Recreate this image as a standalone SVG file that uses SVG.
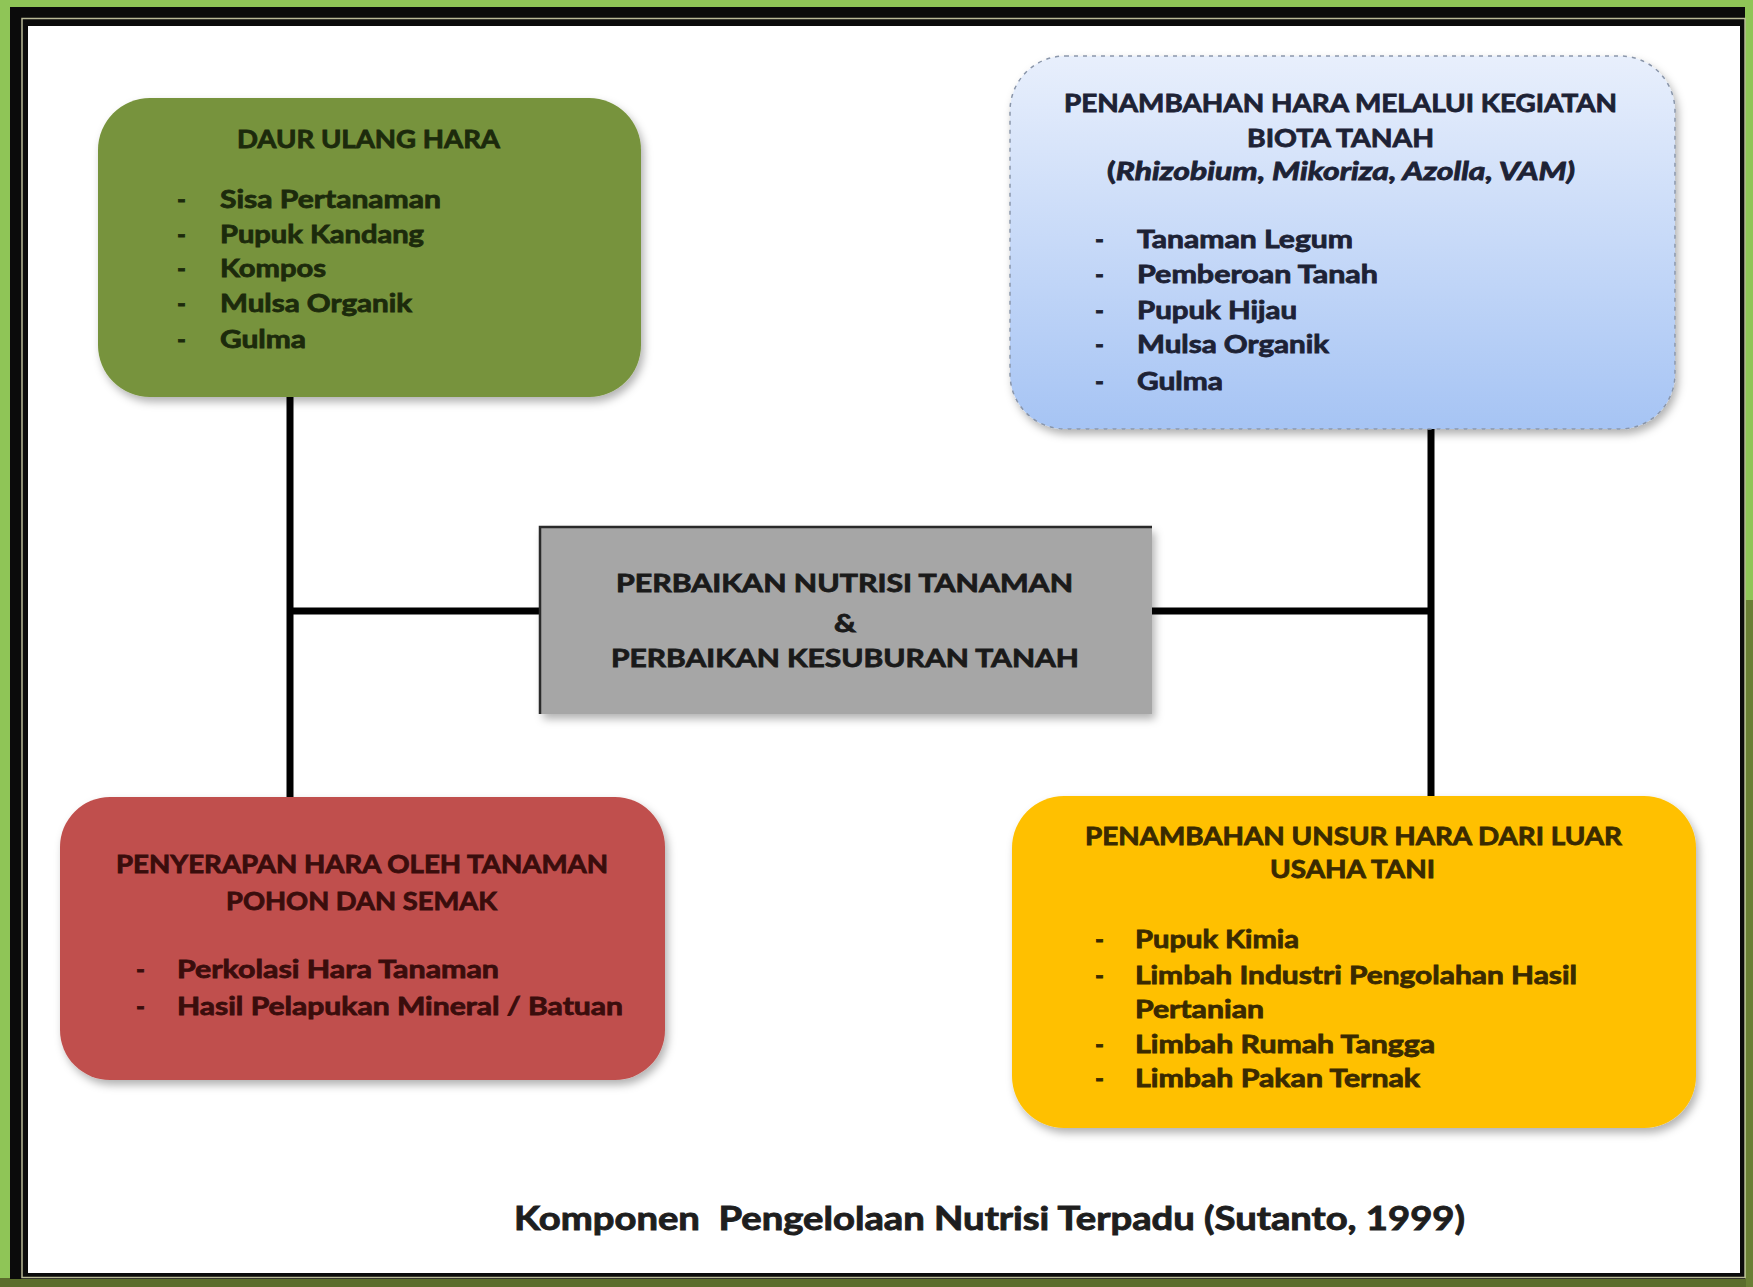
<svg xmlns="http://www.w3.org/2000/svg" width="1753" height="1287" viewBox="0 0 1753 1287">
<defs>
<linearGradient id="blueGrad" x1="0" y1="0" x2="0" y2="1">
<stop offset="0" stop-color="#e8effc"/>
<stop offset="1" stop-color="#a6c4f4"/>
</linearGradient>
<filter id="shadow" x="-10%" y="-10%" width="125%" height="130%">
<feDropShadow dx="3" dy="5" stdDeviation="4" flood-color="#000" flood-opacity="0.3"/>
</filter>
<style>
text{font-family:Lato,"Open Sans","Liberation Sans",sans-serif;font-weight:bold;font-size:24px;stroke-width:0.8px}
.g{fill:#1c2a0c;stroke:#1c2a0c}
.b{fill:#1d2235;stroke:#1d2235}
.k{fill:#1a1a1a;stroke:#1a1a1a}
.r{fill:#3a0d0c;stroke:#3a0d0c}
.y{fill:#3a2a00;stroke:#3a2a00}
.cap{font-size:32px;fill:#1e1e1e;stroke:#1e1e1e;stroke-width:0.9px}
.conn{stroke:#000;stroke-width:7;fill:none}
</style>
</defs>
<rect x="0" y="0" width="1753" height="1287" fill="#8fc557"/>
<rect x="0" y="1278" width="1753" height="9" fill="#5b6d2c"/>
<rect x="1746" y="600" width="7" height="687" fill="#6a7f34"/>
<rect x="10" y="7" width="1735" height="1272" fill="#0b0b0b"/>
<rect x="22" y="18.5" width="1723" height="1259" fill="none" stroke="#b9b996" stroke-width="1.5"/>
<rect x="28" y="26" width="1712" height="1247" fill="#ffffff"/>

<g id="connectors">
<line class="conn" x1="290" y1="396" x2="290" y2="798"/>
<line class="conn" x1="290" y1="611" x2="541" y2="611"/>
<line class="conn" x1="1431" y1="428" x2="1431" y2="796"/>
<line class="conn" x1="1151" y1="611" x2="1431" y2="611"/>
</g>

<g id="daur-ulang-hara">
<rect x="98" y="98" width="543" height="299" rx="52" fill="#77933c" filter="url(#shadow)"/>
<text class="g" x="237" y="148" textLength="263" lengthAdjust="spacingAndGlyphs">DAUR ULANG HARA</text>
<text class="g" x="177" y="208">-</text>
<text class="g" x="220" y="208" textLength="221" lengthAdjust="spacingAndGlyphs">Sisa Pertanaman</text>
<text class="g" x="177" y="243">-</text>
<text class="g" x="220" y="243" textLength="204" lengthAdjust="spacingAndGlyphs">Pupuk Kandang</text>
<text class="g" x="177" y="277">-</text>
<text class="g" x="220" y="277" textLength="106" lengthAdjust="spacingAndGlyphs">Kompos</text>
<text class="g" x="177" y="312">-</text>
<text class="g" x="220" y="312" textLength="192" lengthAdjust="spacingAndGlyphs">Mulsa Organik</text>
<text class="g" x="177" y="348">-</text>
<text class="g" x="220" y="348" textLength="86" lengthAdjust="spacingAndGlyphs">Gulma</text>
</g>

<g id="biota-tanah">
<rect x="1010" y="56" width="665" height="373" rx="55" fill="url(#blueGrad)" stroke="#8a96aa" stroke-width="1.5" stroke-dasharray="4 5" filter="url(#shadow)"/>
<text class="b" x="1064" y="112" textLength="553" lengthAdjust="spacingAndGlyphs">PENAMBAHAN HARA MELALUI KEGIATAN</text>
<text class="b" x="1247" y="147" textLength="187" lengthAdjust="spacingAndGlyphs">BIOTA TANAH</text>
<text class="b" x="1107" y="180" textLength="468" lengthAdjust="spacingAndGlyphs">(<tspan font-style="italic">Rhizobium, Mikoriza, Azolla, VAM)</tspan></text>
<text class="b" x="1095" y="248">-</text>
<text class="b" x="1137" y="248" textLength="216" lengthAdjust="spacingAndGlyphs">Tanaman Legum</text>
<text class="b" x="1095" y="283">-</text>
<text class="b" x="1137" y="283" textLength="241" lengthAdjust="spacingAndGlyphs">Pemberoan Tanah</text>
<text class="b" x="1095" y="319">-</text>
<text class="b" x="1137" y="319" textLength="160" lengthAdjust="spacingAndGlyphs">Pupuk Hijau</text>
<text class="b" x="1095" y="353">-</text>
<text class="b" x="1137" y="353" textLength="192" lengthAdjust="spacingAndGlyphs">Mulsa Organik</text>
<text class="b" x="1095" y="390">-</text>
<text class="b" x="1137" y="390" textLength="86" lengthAdjust="spacingAndGlyphs">Gulma</text>
</g>

<g id="perbaikan-nutrisi">
<rect x="540" y="527" width="612" height="187" fill="#a6a6a6" filter="url(#shadow)"/>
<path d="M540 714 V527 H1152" fill="none" stroke="#2a2a2a" stroke-width="2.5"/>
<text class="k" x="616" y="592" textLength="457" lengthAdjust="spacingAndGlyphs">PERBAIKAN NUTRISI TANAMAN</text>
<text class="k" x="834" y="632" textLength="22" lengthAdjust="spacingAndGlyphs">&amp;</text>
<text class="k" x="611" y="667" textLength="468" lengthAdjust="spacingAndGlyphs">PERBAIKAN KESUBURAN TANAH</text>
</g>

<g id="penyerapan-hara">
<rect x="60" y="797" width="605" height="283" rx="50" fill="#c0504d" filter="url(#shadow)"/>
<text class="r" x="116" y="873" textLength="492" lengthAdjust="spacingAndGlyphs">PENYERAPAN HARA OLEH TANAMAN</text>
<text class="r" x="226" y="910" textLength="271" lengthAdjust="spacingAndGlyphs">POHON DAN SEMAK</text>
<text class="r" x="136" y="978">-</text>
<text class="r" x="177" y="978" textLength="322" lengthAdjust="spacingAndGlyphs">Perkolasi Hara Tanaman</text>
<text class="r" x="136" y="1015">-</text>
<text class="r" x="177" y="1015" textLength="446" lengthAdjust="spacingAndGlyphs">Hasil Pelapukan Mineral / Batuan</text>
</g>

<g id="unsur-hara-luar">
<rect x="1012" y="796" width="684" height="332" rx="52" fill="#ffc000" filter="url(#shadow)"/>
<text class="y" x="1085" y="845" textLength="537" lengthAdjust="spacingAndGlyphs">PENAMBAHAN UNSUR HARA DARI LUAR</text>
<text class="y" x="1270" y="878" textLength="165" lengthAdjust="spacingAndGlyphs">USAHA TANI</text>
<text class="y" x="1095" y="948">-</text>
<text class="y" x="1135" y="948" textLength="164" lengthAdjust="spacingAndGlyphs">Pupuk Kimia</text>
<text class="y" x="1095" y="984">-</text>
<text class="y" x="1135" y="984" textLength="442" lengthAdjust="spacingAndGlyphs">Limbah Industri Pengolahan Hasil</text>
<text class="y" x="1135" y="1018" textLength="129" lengthAdjust="spacingAndGlyphs">Pertanian</text>
<text class="y" x="1095" y="1053">-</text>
<text class="y" x="1135" y="1053" textLength="300" lengthAdjust="spacingAndGlyphs">Limbah Rumah Tangga</text>
<text class="y" x="1095" y="1087">-</text>
<text class="y" x="1135" y="1087" textLength="285" lengthAdjust="spacingAndGlyphs">Limbah Pakan Ternak</text>
</g>

<g id="caption">
<text class="cap" x="514" y="1230" textLength="951" lengthAdjust="spacingAndGlyphs">Komponen&#160; Pengelolaan Nutrisi Terpadu (Sutanto, 1999)</text>
</g>
</svg>
